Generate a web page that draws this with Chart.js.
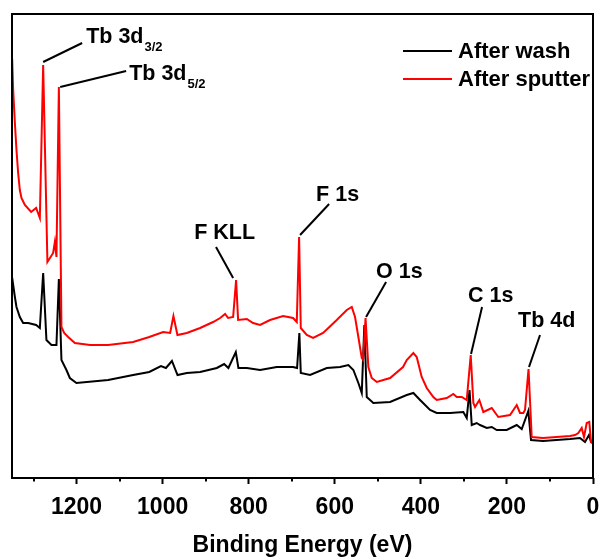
<!DOCTYPE html>
<html><head><meta charset="utf-8">
<script src="https://cdn.jsdelivr.net/npm/chart.js@4.4.1/dist/chart.umd.min.js"></script>
<style>html,body{margin:0;padding:0;background:#fff}</style>
</head><body>
<canvas id="c" width="600" height="560"></canvas>
<script>
// ---- Data (binding energy in eV, intensity in arbitrary units) ----
const energyWash = [1349.6,1343.3,1339.6,1331.8,1324.1,1312.4,1293.9,1285.3,1277.6,1270.0,1258.3,1246.7,1241.1,1235.1,1223.5,1215.6,1200.3,1126.6,1068.5,1031.1,1003.9,992.3,978.4,965.4,943.8,912.9,874.1,857.1,847.2,830.0,823.9,804.4,773.6,734.8,696.9,687.6,682.3,679.0,657.4,618.6,587.7,568.4,556.8,545.2,537.3,531.3,525.7,510.4,471.5,432.8,417.4,401.8,378.6,363.1,332.2,301.3,293.4,286.9,281.8,270.2,262.5,246.9,235.3,223.7,200.5,177.2,165.6,150.3,144.0,116.1,53.4,30.2,18.6,9.3,4.6,0];
const countsWash = [200,181,171,161,155,155,153,150,205,138,133,133,199,118,108,100,95,98,103,106,112,110,117,103,105,106,110,114,110,126,110,110,108,111,111,110,145,105,103,110,111,113,108,95,85,153,81,75,76,83,85,78,68,65,65,66,60,88,53,55,53,50,51,48,48,53,49,67,38,37,39,40,36,43,36,35];

const energySputter = [1349.6,1347.3,1343.3,1339.6,1335.7,1331.8,1328.0,1320.1,1305.5,1293.9,1285.3,1277.6,1267.7,1254.4,1250.4,1246.7,1241.1,1235.1,1228.8,1219.5,1203.9,1168.4,1126.6,1068.5,1031.1,998.8,982.5,974.9,965.6,943.8,912.9,882.7,866.4,854.8,847.9,836.2,829.3,824.6,804.4,789.8,773.6,750.4,720.1,696.9,688.3,682.9,679.0,665.1,650.4,627.2,595.4,572.1,560.5,552.9,545.2,537.3,534.3,528.5,522.0,514.1,502.4,471.5,441.4,432.8,417.4,409.6,398.0,386.3,371.0,363.1,339.8,324.5,316.6,305.0,293.4,284.1,278.0,274.1,264.1,254.8,235.3,220.0,192.8,177.2,169.6,161.9,158.0,149.8,142.4,116.1,53.4,41.8,34.1,26.2,20.9,14.6,8.6,4.6,0];
const countsSputter = [419,388,355,328,305,288,280,273,266,270,260,413,216,225,236,221,391,151,145,141,135,133,133,136,141,146,145,162,143,145,150,156,160,164,160,161,198,158,159,155,153,158,162,160,156,241,150,143,140,145,158,168,171,161,141,120,118,160,111,100,96,100,111,118,125,121,101,90,81,78,80,84,81,81,78,123,75,71,78,66,70,61,63,73,65,65,68,109,41,40,42,43,45,50,41,55,56,36,35];

const seriesLabels = ['After wash', 'After sputter'];
const seriesColors = ['#000000', '#ff0000'];
const xMajorTicks = [0, 200, 400, 600, 800, 1000, 1200];
const xMinorTicks = [100, 300, 500, 700, 900, 1100, 1300];
const axisTitle = 'Binding Energy (eV)';

// Peak labels
const peakText = ['Tb 3d', 'Tb 3d', 'F KLL', 'F 1s', 'O 1s', 'C 1s', 'Tb 4d'];
const peakSub  = ['3/2', '5/2', '', '', '', '', ''];
// leader line start (near peak) / end (near text), text anchor (left, baseline) in data units
const leaderFromX = [1277.6, 1238.1, 836.2, 680.6, 527.3, 283.4, 148.7];
const leaderFromY = [416, 391, 200, 243, 161, 124, 111];
const leaderToX   = [1187.0, 1084.8, 876.0, 613.2, 480.8, 257.8, 123.1];
const leaderToY   = [435, 407, 231, 274, 196, 171, 143];
const textX       = [1177.7, 1077.8, 926.8, 643.4, 504.1, 290.4, 174.2];
const textY       = [435, 398, 239, 277, 200, 176, 151];

const FONT = '"Liberation Sans", Arial, sans-serif';

const toPts = (xs, ys) => xs.map((x, i) => ({x: x, y: ys[i]}));

const decorPlugin = {
  id: 'decor',
  afterDraw(chart) {
    const ctx = chart.ctx, a = chart.chartArea;
    const xs = chart.scales.x, ys = chart.scales.y;
    ctx.save();
    // frame
    ctx.strokeStyle = '#000'; ctx.lineWidth = 2;
    ctx.strokeRect(a.left, a.top, a.right - a.left, a.bottom - a.top);
    // minor ticks
    ctx.beginPath();
    xMinorTicks.forEach(v => {
      const px = Math.round(xs.getPixelForValue(v));
      ctx.moveTo(px, a.bottom); ctx.lineTo(px, a.bottom + 3.5);
    });
    ctx.stroke();
    // annotations
    ctx.lineWidth = 2; ctx.strokeStyle = '#000'; ctx.fillStyle = '#000';
    ctx.textBaseline = 'alphabetic'; ctx.textAlign = 'left';
    for (let i = 0; i < peakText.length; i++) {
      ctx.beginPath();
      ctx.moveTo(xs.getPixelForValue(leaderFromX[i]), ys.getPixelForValue(leaderFromY[i]));
      ctx.lineTo(xs.getPixelForValue(leaderToX[i]), ys.getPixelForValue(leaderToY[i]));
      ctx.stroke();
      const tx = xs.getPixelForValue(textX[i]), ty = ys.getPixelForValue(textY[i]);
      ctx.font = 'bold 21.5px ' + FONT;
      ctx.fillText(peakText[i], tx, ty);
      if (peakSub[i]) {
        const w = ctx.measureText(peakText[i]).width;
        ctx.font = 'bold 13px ' + FONT;
        ctx.fillText(peakSub[i], tx + w + 1, ty + 8);
      }
    }
    // legend
    const lx0 = a.left + 391, lx1 = a.left + 440, tx = a.left + 446;
    const rows = [a.top + 37, a.top + 65];
    chart.data.datasets.forEach((ds, i) => {
      const y = rows[i];
      ctx.strokeStyle = ds.borderColor; ctx.lineWidth = 2;
      ctx.beginPath(); ctx.moveTo(lx0, y); ctx.lineTo(lx1, y); ctx.stroke();
      ctx.fillStyle = '#000'; ctx.font = 'bold 22px ' + FONT;
      ctx.textBaseline = 'middle';
      ctx.fillText(ds.label, tx, y + 1);
    });
    ctx.restore();
  }
};

new Chart(document.getElementById('c'), {
  type: 'line',
  data: {
    datasets: [
      {label: seriesLabels[0], data: toPts(energyWash, countsWash), borderColor: seriesColors[0], borderWidth: 2, pointRadius: 0, tension: 0, order: 1},
      {label: seriesLabels[1], data: toPts(energySputter, countsSputter), borderColor: seriesColors[1], borderWidth: 2, pointRadius: 0, tension: 0, order: 0}
    ]
  },
  options: {
    responsive: false, animation: false,
    layout: {padding: {left: 12, right: 7, top: 14, bottom: 1}},
    plugins: {legend: {display: false}, tooltip: {enabled: false}},
    scales: {
      x: {
        type: 'linear', reverse: true, min: 0, max: 1350,
        border: {display: false},
        afterFit: s => { s.height = 81; s.paddingLeft = 0; s.paddingRight = 0; },
        grid: {display: true, drawOnChartArea: false, drawTicks: true, tickLength: 6, tickWidth: 2,
               tickColor: c => (c.tick && xMajorTicks.includes(c.tick.value)) ? '#000' : 'rgba(0,0,0,0)'},
        ticks: {stepSize: 100, includeBounds: false, autoSkip: false, maxRotation: 0, padding: 10,
                color: '#000', font: {family: FONT, size: 23, weight: 'bold'},
                callback: v => xMajorTicks.includes(v) ? String(v) : ''},
        title: {display: true, text: axisTitle, color: '#000', padding: {top: 11, bottom: 0},
                font: {family: FONT, size: 23, weight: 'bold'}}
      },
      y: {type: 'linear', min: 0, max: 464, display: false}
    }
  },
  plugins: [decorPlugin]
});
</script>
</body></html>
